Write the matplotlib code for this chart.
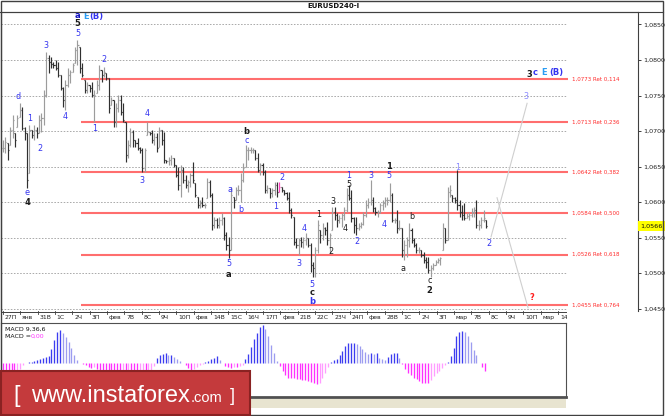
import matplotlib
matplotlib.use("Agg")
import matplotlib.pyplot as plt
import matplotlib.transforms as mtransforms
from matplotlib.patches import Rectangle
from matplotlib.ticker import FuncFormatter
import numpy as np

W, H = 665, 416

# EURUSD 4H bars
high = np.array([
    1.0687, 1.0691, 1.0683, 1.0706, 1.0722, 1.0697, 1.0722, 1.0739, 1.0734, 1.0706,
    1.0697, 1.0708, 1.0701, 1.0708, 1.0706, 1.0722, 1.0725, 1.0758, 1.0811, 1.0807,
    1.0804, 1.0797, 1.0800, 1.0797, 1.0779, 1.0762, 1.0772, 1.0789, 1.0786, 1.0796,
    1.0818, 1.0828, 1.0818, 1.0796, 1.0772, 1.0769, 1.0765, 1.0769, 1.0758, 1.0772,
    1.0793, 1.0786, 1.0790, 1.0782, 1.0775, 1.0748, 1.0744, 1.0739, 1.0751, 1.0751,
    1.0739, 1.0713, 1.0687, 1.0704, 1.0701, 1.0687, 1.0690, 1.0677, 1.0676, 1.0676,
    1.0713, 1.0699, 1.0701, 1.0697, 1.0697, 1.0706, 1.0701, 1.0699, 1.0659, 1.0663,
    1.0666, 1.0662, 1.0652, 1.0649, 1.0652, 1.0649, 1.0638, 1.0631, 1.0641, 1.0656,
    1.0627, 1.0607, 1.0603, 1.0607, 1.0599, 1.0634, 1.0631, 1.0613, 1.0579, 1.0577,
    1.0579, 1.0584, 1.0579, 1.0558, 1.0551, 1.0621, 1.0607, 1.0621, 1.0624, 1.0641,
    1.0655, 1.0680, 1.0677, 1.0677, 1.0676, 1.0673, 1.0669, 1.0655, 1.0655, 1.0645,
    1.0624, 1.0620, 1.0620, 1.0628, 1.0628, 1.0628, 1.0621, 1.0617, 1.0614, 1.0614,
    1.0592, 1.0579, 1.0549, 1.0549, 1.0551, 1.0551, 1.0556, 1.0549, 1.0542, 1.0515,
    1.0537, 1.0575, 1.0561, 1.0570, 1.0565, 1.0572, 1.0556, 1.0593, 1.0593, 1.0584,
    1.0582, 1.0584, 1.0593, 1.0620, 1.0624, 1.0617, 1.0579, 1.0579, 1.0570, 1.0572,
    1.0586, 1.0603, 1.0606, 1.0631, 1.0607, 1.0593, 1.0589, 1.0599, 1.0603, 1.0607,
    1.0607, 1.0627, 1.0613, 1.0577, 1.0589, 1.0575, 1.0563, 1.0546, 1.0551, 1.0570,
    1.0563, 1.0549, 1.0542, 1.0537, 1.0532, 1.0530, 1.0523, 1.0523, 1.0511, 1.0514,
    1.0518, 1.0521, 1.0523, 1.0570, 1.0563, 1.0621, 1.0624, 1.0610, 1.0607, 1.0645,
    1.0603, 1.0596, 1.0599, 1.0584, 1.0586, 1.0592, 1.0593, 1.0603, 1.0575, 1.0579,
    1.0589, 1.0575])
low = np.array([
    1.0670, 1.0669, 1.0659, 1.0680, 1.0690, 1.0677, 1.0706, 1.0720, 1.0701, 1.0687,
    1.0620, 1.0641, 1.0690, 1.0687, 1.0690, 1.0697, 1.0699, 1.0708, 1.0748, 1.0782,
    1.0789, 1.0789, 1.0786, 1.0776, 1.0758, 1.0734, 1.0730, 1.0762, 1.0768, 1.0783,
    1.0796, 1.0793, 1.0782, 1.0776, 1.0753, 1.0753, 1.0755, 1.0748, 1.0713, 1.0753,
    1.0758, 1.0769, 1.0776, 1.0772, 1.0725, 1.0737, 1.0706, 1.0706, 1.0727, 1.0722,
    1.0713, 1.0656, 1.0662, 1.0677, 1.0677, 1.0677, 1.0673, 1.0669, 1.0642, 1.0642,
    1.0694, 1.0694, 1.0683, 1.0680, 1.0670, 1.0677, 1.0680, 1.0655, 1.0655, 1.0652,
    1.0652, 1.0649, 1.0635, 1.0617, 1.0607, 1.0627, 1.0620, 1.0614, 1.0621, 1.0627,
    1.0607, 1.0592, 1.0592, 1.0593, 1.0592, 1.0606, 1.0607, 1.0561, 1.0563, 1.0563,
    1.0563, 1.0568, 1.0546, 1.0532, 1.0521, 1.0532, 1.0592, 1.0603, 1.0610, 1.0600,
    1.0628, 1.0649, 1.0659, 1.0669, 1.0669, 1.0659, 1.0642, 1.0638, 1.0638, 1.0613,
    1.0613, 1.0606, 1.0607, 1.0610, 1.0607, 1.0614, 1.0614, 1.0610, 1.0603, 1.0584,
    1.0577, 1.0539, 1.0535, 1.0525, 1.0537, 1.0535, 1.0539, 1.0537, 1.0501, 1.0494,
    1.0494, 1.0528, 1.0542, 1.0546, 1.0554, 1.0539, 1.0528, 1.0561, 1.0575, 1.0565,
    1.0570, 1.0565, 1.0575, 1.0586, 1.0603, 1.0572, 1.0556, 1.0554, 1.0561, 1.0563,
    1.0568, 1.0579, 1.0592, 1.0596, 1.0586, 1.0582, 1.0579, 1.0584, 1.0589, 1.0593,
    1.0596, 1.0600, 1.0572, 1.0570, 1.0556, 1.0561, 1.0523, 1.0518, 1.0523, 1.0537,
    1.0542, 1.0537, 1.0528, 1.0528, 1.0523, 1.0514, 1.0507, 1.0500, 1.0494, 1.0504,
    1.0511, 1.0514, 1.0511, 1.0532, 1.0542, 1.0546, 1.0607, 1.0600, 1.0599, 1.0589,
    1.0579, 1.0575, 1.0575, 1.0577, 1.0575, 1.0579, 1.0579, 1.0563, 1.0561, 1.0563,
    1.0572, 1.0563])
close = np.array([
    1.0676, 1.0684, 1.0673, 1.0701, 1.0715, 1.0687, 1.0718, 1.0730, 1.0704, 1.0697,
    1.0631, 1.0701, 1.0694, 1.0701, 1.0697, 1.0715, 1.0718, 1.0751, 1.0803, 1.0797,
    1.0794, 1.0793, 1.0789, 1.0779, 1.0761, 1.0744, 1.0765, 1.0779, 1.0783, 1.0793,
    1.0814, 1.0821, 1.0789, 1.0779, 1.0758, 1.0765, 1.0761, 1.0751, 1.0751, 1.0765,
    1.0786, 1.0779, 1.0783, 1.0775, 1.0732, 1.0744, 1.0713, 1.0732, 1.0744, 1.0727,
    1.0715, 1.0666, 1.0680, 1.0699, 1.0687, 1.0683, 1.0676, 1.0673, 1.0648, 1.0673,
    1.0699, 1.0697, 1.0687, 1.0691, 1.0676, 1.0701, 1.0687, 1.0659, 1.0658, 1.0659,
    1.0662, 1.0652, 1.0638, 1.0624, 1.0645, 1.0631, 1.0624, 1.0628, 1.0638, 1.0631,
    1.0610, 1.0596, 1.0599, 1.0596, 1.0596, 1.0628, 1.0610, 1.0568, 1.0575, 1.0568,
    1.0575, 1.0577, 1.0554, 1.0539, 1.0532, 1.0610, 1.0603, 1.0617, 1.0617, 1.0631,
    1.0648, 1.0673, 1.0673, 1.0673, 1.0673, 1.0662, 1.0645, 1.0652, 1.0642, 1.0617,
    1.0620, 1.0613, 1.0617, 1.0624, 1.0614, 1.0621, 1.0617, 1.0613, 1.0606, 1.0589,
    1.0582, 1.0544, 1.0539, 1.0546, 1.0544, 1.0546, 1.0549, 1.0539, 1.0511, 1.0507,
    1.0532, 1.0568, 1.0554, 1.0563, 1.0561, 1.0546, 1.0554, 1.0586, 1.0582, 1.0575,
    1.0577, 1.0582, 1.0589, 1.0610, 1.0606, 1.0577, 1.0568, 1.0563, 1.0566, 1.0569,
    1.0582, 1.0596, 1.0600, 1.0603, 1.0592, 1.0586, 1.0586, 1.0596, 1.0599, 1.0603,
    1.0603, 1.0610, 1.0575, 1.0575, 1.0563, 1.0563, 1.0532, 1.0539, 1.0546, 1.0561,
    1.0546, 1.0539, 1.0532, 1.0532, 1.0525, 1.0518, 1.0515, 1.0504, 1.0507, 1.0511,
    1.0515, 1.0518, 1.0521, 1.0563, 1.0546, 1.0614, 1.0617, 1.0606, 1.0603, 1.0596,
    1.0586, 1.0582, 1.0577, 1.0580, 1.0582, 1.0586, 1.0589, 1.0568, 1.0568, 1.0575,
    1.0577, 1.0566])
pink_bar = 115

fib_levels = [1.0773, 1.0713, 1.0642, 1.0584, 1.0526, 1.0455]
fib_ratios = ["0,114", "0,236", "0,382", "0,500", "0,618", "0,764"]
price_ticks = [1.0450, 1.0500, 1.0550, 1.0600, 1.0650, 1.0700, 1.0750, 1.0800, 1.0850]
last_price = 1.0566

day_labels = ["27П", "янв", "31В", "1С", "2Ч", "3П", "фев", "7В", "8С", "9Ч", "10П",
              "фев", "14В", "15С", "16Ч", "17П", "фев", "21В", "22С", "23Ч", "24П",
              "фев", "28В", "1С", "2Ч", "3П", "мар", "7В", "8С", "9Ч", "10П", "мар", "14В"]

# MACD(9,36,6) histogram, in pips
macd_hist = np.array([
    -7.0, -7.0, -7.0, -7.0, -7.0, -6.3, -4.2, -1.4,
    0.0, 0.7, 0.7, 1.4, 2.1, 2.8, 3.5, 4.2, 4.9, 9.8, 16.1, 21.7, 23.1, 21.0, 18.2,
    14.7, 10.5, 5.6, 2.1, 0.0,
    -0.7, -1.4, -2.8, -3.5, -2.8, -4.2, -5.6,
    -6.3, -7.0, -7.7, -8.4, -8.4, -9.1, -9.1, -8.4, -8.4, -7.7, -7.7, -8.4, -8.4,
    -7.7, -7.0, -7.0, -6.3, -4.9,
    -2.1,
    3.5, 5.6, 6.3, 7.0, 5.6, 5.6, 4.2, 2.8, 1.4,
    0.0,
    -1.4, -3.5, -4.9, -4.2, -2.8, -1.4, -0.7,
    0.7, 1.4, 2.8, 3.5, 4.9, 2.1,
    0.0,
    -2.1, -2.8, -3.5, -2.8, -2.8, -2.1, -1.4,
    2.8, 6.3, 11.2, 16.8, 21.0, 25.2, 26.6, 23.8, 18.9, 12.6, 7.0, 1.4,
    -2.1, -5.6, -8.4, -10.5, -10.5, -10.5, -11.2, -11.2, -11.9, -11.9, -12.6, -13.3,
    -14.0, -14.7, -14.0, -10.5, -7.0, -2.8,
    0.7, 2.1, 2.8, 5.6, 8.4, 11.9, 14.0, 14.0, 14.0, 13.3, 11.9, 9.8, 7.7, 6.3, 7.0,
    6.3, 7.0, 3.5, 2.8, 2.1, 4.2, 6.3, 7.0, 7.0, 3.5,
    -0.7, -4.2, -7.0, -8.4, -10.5, -11.2, -12.6, -14.0, -14.0, -14.0, -11.9, -9.1,
    -7.0, -5.6, -3.5, -1.4,
    0.7, 4.9, 10.5, 18.9, 21.7, 22.4, 21.7, 18.9, 14.7, 9.1, 5.6,
    0.0, -2.8, -5.6]) * 1e-4

BLUE = "#3434f0"
LBLUE = "#8a8aff"
BLACK = "#1a1a1a"
CYAN = "#2a9df4"
RED = "#ff2020"

# wave labels: text, bar index, price, colour, bold
wave_labels = [
    ("a", 31, 1.0862, "#1010c0", True), ("E", 34.4, 1.0861, CYAN, True),
    ("(B)", 38.9, 1.0861, BLUE, True),
    ("5", 31, 1.0851, BLACK, True), ("5", 31, 1.0838, BLUE, False),
    ("3", 18, 1.0820, BLUE, False), ("d", 6.4, 1.0748, BLUE, False),
    ("1", 11, 1.0717, BLUE, False), ("4", 26, 1.0720, BLUE, False),
    ("1", 38, 1.0704, BLUE, False), ("2", 42, 1.0800, BLUE, False),
    ("2", 15.4, 1.0675, BLUE, False), ("4", 60, 1.0724, BLUE, False),
    ("3", 58, 1.0630, BLUE, False), ("e", 10, 1.0613, BLUE, False),
    ("4", 10, 1.0599, BLACK, True),
    ("b", 101.4, 1.0700, BLACK, True), ("c", 101.4, 1.0686, BLUE, False),
    ("a", 94.6, 1.0617, BLUE, False), ("b", 99, 1.0589, BLUE, False),
    ("1", 113.4, 1.0594, BLUE, False), ("2", 116, 1.0635, BLUE, False),
    ("5", 94, 1.0514, BLUE, False), ("a", 94, 1.0498, BLACK, True),
    ("4", 125.2, 1.0562, BLUE, False), ("3", 123, 1.0514, BLUE, False),
    ("5", 128.6, 1.0484, BLUE, False), ("c", 128.6, 1.0472, BLACK, True),
    ("b", 128.6, 1.0460, BLUE, True),
    ("1", 131.4, 1.0582, BLACK, False), ("2", 136.4, 1.0530, BLACK, False),
    ("3", 137.4, 1.0601, BLACK, False), ("4", 142.4, 1.0562, BLACK, False),
    ("5", 144, 1.0624, BLACK, False), ("1", 144, 1.0637, BLUE, False),
    ("2", 147.4, 1.0544, BLUE, False), ("3", 153, 1.0637, BLUE, False),
    ("4", 158.4, 1.0568, BLUE, False), ("5", 160.6, 1.0637, BLUE, False),
    ("1", 160.6, 1.0650, BLACK, True),
    ("b", 170, 1.0579, BLACK, False), ("a", 166.6, 1.0506, BLACK, False),
    ("c", 177.6, 1.0489, BLACK, False), ("2", 177.6, 1.0476, BLACK, True),
    ("1", 189.4, 1.0649, LBLUE, False), ("2", 202.2, 1.0541, BLUE, False),
    ("3", 217.6, 1.0749, LBLUE, False),
    ("3", 218.9, 1.0780, BLACK, True), ("c", 221.4, 1.0782, BLUE, True),
    ("E", 225.1, 1.0782, CYAN, True), ("(B)", 230.1, 1.0782, BLUE, True),
    ("?", 220.1, 1.0465, RED, True),
]

# forecast paths
proj_up_x, proj_up_y = [203.1, 218.1], [1.0551, 1.0739]
proj_dn_x, proj_dn_y = [205.6, 218.5], [1.0606, 1.0451]


def px_box(x0, y0, x1, y1):
    return [x0 / W, 1 - y1 / H, (x1 - x0) / W, (y1 - y0) / H]


fig = plt.figure(figsize=(W / 100, H / 100), dpi=100)
fig.patch.set_facecolor("white")

# ---- price panel
ax = fig.add_axes(px_box(1, 12, 638, 311))
n = len(close)
x = np.arange(n)
bar_px = 483 / (n - 1)
ax.set_xlim(-2 / bar_px, 635 / bar_px)
ax.set_ylim(1.04465, 1.08676)
grid_end = 564 / bar_px
fib_start, fib_end = 78 / bar_px, 565 / bar_px

for p in price_ticks:
    ax.plot([-2 / bar_px, grid_end], [p, p], color="#a9a9a9", lw=0.7,
            ls=(0, (1.6, 1.6)), zorder=1)
ax.hlines(fib_levels, fib_start, fib_end, colors="#ff6e6e", lw=1.5, zorder=2)
for lvl, r in zip(fib_levels, fib_ratios):
    ax.text(fib_end + 1.6, lvl, f"{lvl:.4f}".replace(".", ",") + " Ret " + r,
            color="#ff2a2a", fontsize=4, va="center", ha="left")

opens = np.clip(np.r_[close[0], close[:-1]], low, high)
up = close >= opens
cols = np.where(up, "#9c9c9c", "#303030").astype(object)
cols[pink_bar] = "#ff40c0"
ax.vlines(x, low, high, colors=cols, lw=0.85, zorder=3)
ax.hlines(opens, x - 0.45, x, colors=cols, lw=0.85, zorder=3)
ax.hlines(close, x, x + 0.45, colors=cols, lw=0.85, zorder=3)

ax.plot(proj_up_x, proj_up_y, color="#cfcfcf", lw=0.8, zorder=2)
ax.plot(proj_dn_x, proj_dn_y, color="#cfcfcf", lw=0.8, zorder=2)

for t, bx, py, c, b in wave_labels:
    ax.text(bx, py, t, color=c, fontsize=5.8 if not b else 6,
            fontweight="bold" if b else "normal", ha="center", va="center", zorder=5)

ax.yaxis.tick_right()
ax.set_yticks(price_ticks)
ax.yaxis.set_major_formatter(FuncFormatter(lambda v, _: f"{v:.4f}".replace(".", ",")))
ax.tick_params(axis="y", length=2.5, width=0.6, pad=1.5, labelsize=4.6,
               colors="#202020")
ax.set_xticks([])
ax.spines["bottom"].set_visible(False)
for s in ["top", "right", "left"]:
    ax.spines[s].set_color("#404040")
    ax.spines[s].set_linewidth(0.8)

ax.text(1.004, last_price, f"{last_price:.4f}".replace(".", ","),
        transform=mtransforms.blended_transform_factory(ax.transAxes, ax.transData),
        fontsize=4.6, va="center", ha="left", color="#101010",
        bbox=dict(boxstyle="square,pad=0.35", fc="#ffff00", ec="none"))

# date scale under the price panel
bars_per_day = 17.35 / bar_px
day_x = np.arange(len(day_labels)) * bars_per_day - 0.08
trans = mtransforms.blended_transform_factory(ax.transData, ax.transAxes)
for d, lab in zip(day_x, day_labels):
    ax.plot([d, d], [0, -3 / 299], transform=trans, clip_on=False,
            color="#404040", lw=0.6)
    ax.text(d + 0.8, -6.8 / 299, lab, transform=trans, fontsize=4.4,
            ha="left", va="center", color="#202020", clip_on=False)

# ---- MACD panel
axm = fig.add_axes(px_box(1, 323, 566, 397))
m = len(macd_hist)
mx = np.arange(m)
macd_px = 482 / (m - 1)
axm.set_xlim(-2 / macd_px, 563 / macd_px)
axm.set_ylim(-23.8e-4, 28e-4)
prev = np.r_[macd_hist[0], macd_hist[:-1]]
mcols = np.where(macd_hist >= 0,
                 np.where(macd_hist >= prev, "#3c3cf0", "#9c9cf0"),
                 np.where(macd_hist <= prev, "#ff30ff", "#ff9cff"))
axm.vlines(mx, 0, macd_hist, colors=mcols, lw=0.95)
axm.set_xticks([])
axm.set_yticks([])
for s in axm.spines.values():
    s.set_color("#505050")
    s.set_linewidth(0.8)
axm.spines["bottom"].set_linewidth(2)

# ---- frame, title, banner
ov = fig.add_axes([0, 0, 1, 1])
ov.set_xlim(0, W)
ov.set_ylim(H, 0)
ov.axis("off")
ov.patch.set_alpha(0)
ov.add_patch(Rectangle((566.5, 312), 70, 10, fc="white", ec="none"))
ov.plot([1, 566], [311.5, 311.5], color="#404040", lw=0.7)
ov.plot([0, 663], [12, 12], color="#404040", lw=0.8)
ov.add_patch(Rectangle((0.5, 0.5), 662.5, 414.5, fill=False, ec="#404040", lw=1))
ov.text(333, 6.5, "EURUSD240-I", fontsize=5, fontweight="bold", ha="center",
        va="center", color="#101010")
ov.text(5, 329, "MACD 9,36,6", fontsize=4.5, ha="left", va="center", color="#101010")
ov.text(5, 336, "MACD =", fontsize=4.5, ha="left", va="center", color="#101010")
ov.text(30.5, 336, "0,00", fontsize=4.5, ha="left", va="center", color="#ff30ff")
ov.add_patch(Rectangle((250, 398.5), 316, 9, fc="#e8e4d0", ec="none"))
ov.add_patch(Rectangle((1, 370.5), 249, 44.5, fc="#c43a3c", ec="#8a2222", lw=1.5))
bfont = "Liberation Sans"
ov.text(13, 402, "[", fontsize=17, color="white", family=bfont, va="baseline")
ov.text(31, 402, "www.instaforex", fontsize=17, color="white", family=bfont,
        va="baseline")
ov.text(191, 402, ".com", fontsize=10.5, color="white", family=bfont, va="baseline")
ov.text(230, 401, "]", fontsize=13, color="white", family=bfont, va="baseline")

fig.savefig("out.png", dpi=100)
